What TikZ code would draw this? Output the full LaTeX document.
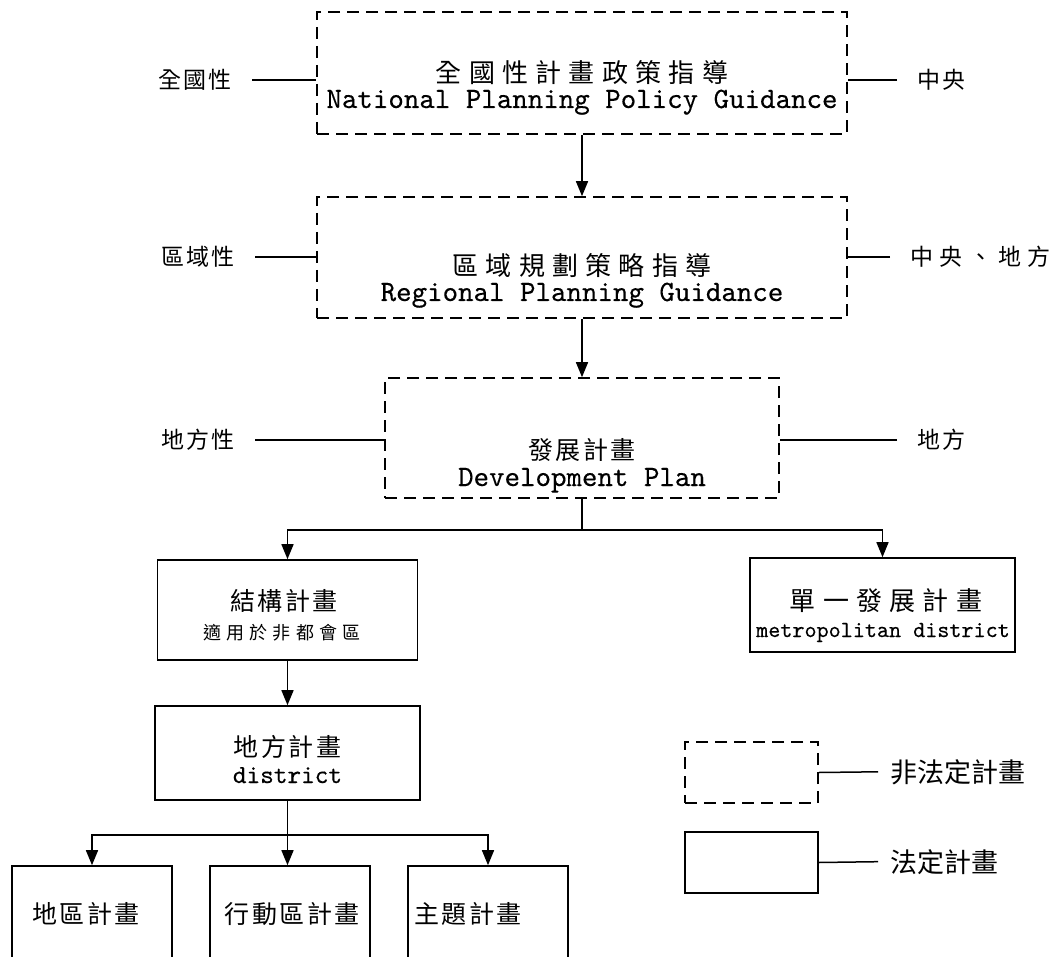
\documentclass[tikz,border=0pt]{standalone}
\usepackage{fontspec}
\usetikzlibrary{arrows.meta}

\newfontfamily\zhwide[LetterSpace=28]{Noto Sans CJK TC}
\newfontfamily\zhmid[LetterSpace=10]{Noto Sans CJK TC}
\newfontfamily\zhplain{Noto Sans CJK TC}
\newfontfamily\enmono[Extension=.otf, FakeBold=0.3]{lmmono10-regular}

\tikzset{
  plan/.style={draw, line width=1.6pt, inner sep=0pt},
  nonstat/.style={plan, dash pattern=on 12pt off 7pt},
  arr/.style={line width=1.5pt, -{Triangle[length=15pt,width=12pt]}},
  link/.style={line width=1.5pt},
  zhtitle/.style={font=\zhwide\fontsize{26}{30}\selectfont, anchor=base, inner sep=0pt},
  zhbox/.style={font=\zhmid\fontsize{25}{29}\selectfont, anchor=base, inner sep=0pt},
  zhsmall/.style={font=\zhwide\fontsize{18}{21}\selectfont, anchor=base, inner sep=0pt},
  entitle/.style={font=\enmono\fontsize{29.5}{33}\selectfont, anchor=base, inner sep=0pt},
  side/.style={font=\zhmid\fontsize{23}{27}\selectfont, inner xsep=20pt, inner ysep=0pt},
  keytext/.style={font=\zhplain\fontsize{27}{31}\selectfont, inner xsep=12pt, inner ysep=0pt}
}

\begin{document}
\begin{tikzpicture}[x=1pt,y=-1pt]
  \clip (0,0) rectangle (1062,957);

  % Draw the non-statutory guidance boxes
  \node[nonstat, minimum width=530pt, minimum height=122pt] (nat) at (582,73) {};
  \node[zhtitle] (natZh) at (582,83) {全國性計畫政策指導};
  \node[entitle] (natEn) at (582,108) {National Planning Policy Guidance};

  \node[nonstat, minimum width=530pt, minimum height=121pt] (reg) at (582,257.5) {};
  \node[zhtitle] (regZh) at (582,276) {區域規劃策略指導};
  \node[entitle] (regEn) at (582,301) {Regional Planning Guidance};

  \node[nonstat, minimum width=394pt, minimum height=120pt] (dev) at (582,438) {};
  \node[zhbox] (devZh) at (582,459) {發展計畫};
  \node[entitle] (devEn) at (582,486) {Development Plan};

  \draw[arr] (nat) -- (reg);
  \draw[arr] (reg) -- (dev);

  % Side labels: scope on the left, level on the right
  \node[side, anchor=east] (natL) at (252,80) {全國性};
  \node[side, anchor=east] (regL) at (255,257) {區域性};
  \node[side, anchor=east] (devL) at (255,440) {地方性};
  \node[side, anchor=west] (natR) at (897,80) {中央};
  \node[side, font=\zhwide\fontsize{23}{27}\selectfont, anchor=west] (regR) at (890,257) {中央、地方};
  \node[side, anchor=west] (devR) at (897,440) {地方};
  \draw[link] (natL.east) -- (natL.east -| nat.west);
  \draw[link] (regL.east) -- (regL.east -| reg.west);
  \draw[link] (devL.east) -- (devL.east -| dev.west);
  \draw[link] (natR.west) -- (natR.west -| nat.east);
  \draw[link] (regR.west) -- (regR.west -| reg.east);
  \draw[link] (devR.west) -- (devR.west -| dev.east);

  % Draw the statutory plans
  \node[plan, minimum width=260pt, minimum height=100pt] (struct) at (287.5,610) {};
  \node[zhbox] (structZh) at (284,610) {結構計畫};
  \node[zhsmall] (structSub) at (282,639) {適用於非都會區};

  \node[plan, minimum width=265pt, minimum height=94pt] (single) at (882.5,605) {};
  \node[zhtitle] (singleZh) at (886,610) {單一發展計畫};
  \node[font=\enmono\fontsize{23}{27}\selectfont, anchor=base, inner sep=0pt] (singleEn) at (883,637) {metropolitan district};

  \node[plan, minimum width=265pt, minimum height=94pt] (local) at (287.5,753) {};
  \node[zhbox] (localZh) at (287.5,756) {地方計畫};
  \node[font=\enmono\fontsize{26}{30}\selectfont, anchor=base, inner sep=0pt] (localEn) at (287.5,783) {district};

  \node[plan, minimum width=160pt, minimum height=100pt] (area) at (92,916) {};
  \node[zhbox] (areaZh) at (86,923) {地區計畫};
  \node[plan, minimum width=160pt, minimum height=100pt] (action) at (290,916) {};
  \node[zhbox] (actionZh) at (292,923) {行動區計畫};
  \node[plan, minimum width=160pt, minimum height=100pt] (topic) at (488,916) {};
  \node[zhbox] (topicZh) at (468,923) {主題計畫};

  % Branching connectors
  \coordinate (split1) at (582,530);
  \draw[link] (dev.south) -- (split1);
  \draw[arr] (split1) -| (struct.north);
  \draw[arr] (split1) -| (single.north);
  \draw[arr] (struct) -- (local);

  \coordinate (split2) at (287.5,835);
  \draw[link] (local.south) -- (split2);
  \draw[arr] (split2) -| (area.north);
  \draw[arr] (split2) -- (action.north -| split2);
  \draw[arr] (split2) -| (topic.north);

  % Legend
  \node[nonstat, minimum width=133pt, minimum height=61pt] (keyDash) at (751.5,772.5) {};
  \node[keytext, anchor=base west] (keyDashT) at (878,782) {非法定計畫};
  \draw[link] (keyDash.east) -- (keyDashT.west);
  \node[plan, minimum width=133pt, minimum height=61pt] (keySolid) at (751.5,862.5) {};
  \node[keytext, anchor=base west] (keySolidT) at (878,872) {法定計畫};
  \draw[link] (keySolid.east) -- (keySolidT.west);
\end{tikzpicture}
\end{document}
